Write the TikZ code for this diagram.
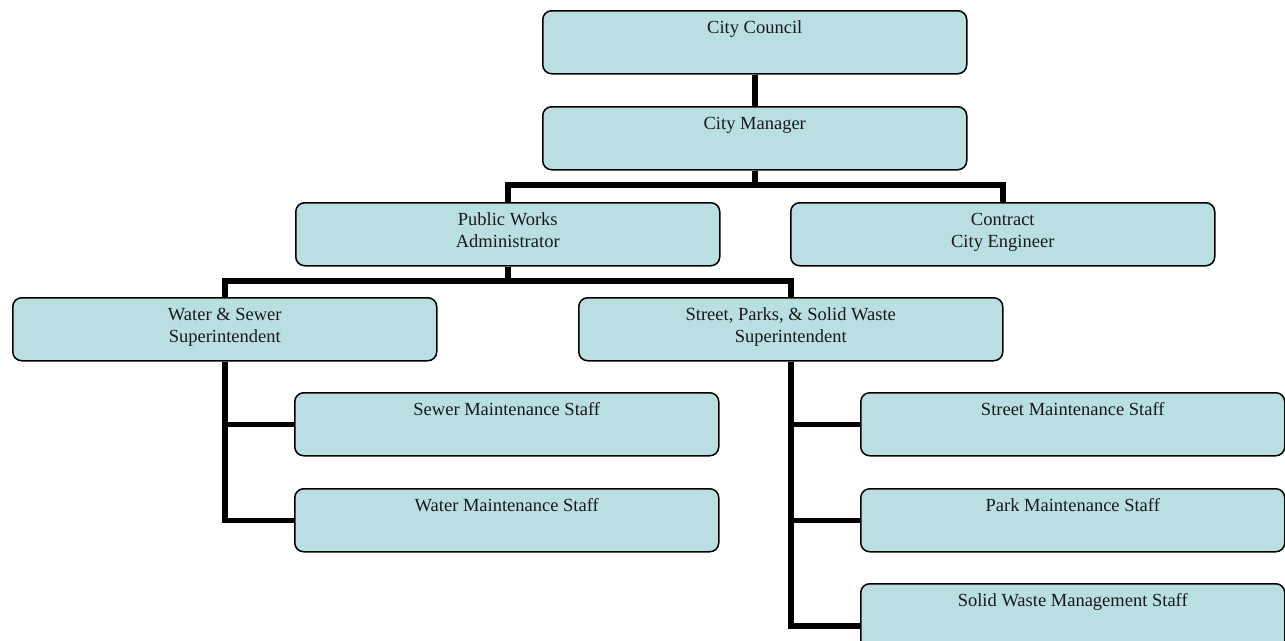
\documentclass[tikz,border=0pt]{standalone}
\usepackage{fontspec}
\setmainfont{Liberation Serif}
\definecolor{boxfill}{RGB}{186,223,227}
\begin{document}
\begin{tikzpicture}[x=1pt,y=-1pt,
  box/.style={draw=black, line width=1.5pt, rounded corners=9pt, fill=boxfill,
    minimum width=424pt, minimum height=63pt, inner sep=0pt, anchor=north west},
  lbl/.style={anchor=north, inner sep=0pt, align=center, text=black!90,
    font=\fontsize{18.5}{22}\selectfont},
  conn/.style={line width=5.5pt, line join=miter, draw=black}]
\clip (0,0) rectangle (1285,640);
% connectors first
\node[box] (cc) at (542,10) {};
\node[box] (cm) at (542,106) {};
\node[box] (pw) at (295,202) {};
\node[box] (ce) at (790,202) {};
\node[box] (ws) at (12,297) {};
\node[box] (sp) at (578,297) {};
\node[box] (sm) at (294,392) {};
\node[box] (wm) at (294,488) {};
\node[box] (st) at (860,392) {};
\node[box] (pk) at (860,488) {};
\node[box, minimum height=84pt] (sw) at (860,583) {};
\begin{scope}[on background layer/.style={}]
\draw[conn] (cc.south) -- (cm.north);
\draw[conn] (cm.south) -- ++(0,16);
\draw[conn] (pw.north) -- ++(0,-17) -| (ce.north);
\draw[conn] (pw.south) -- ++(0,16);
\draw[conn] (ws.north) -- ++(0,-16) -| (sp.north);
\draw[conn] (ws.south) |- (wm.west);
\draw[conn] (ws.south |- sm.west) -- (sm.west);
\draw[conn] (sp.south) |- (sw.west);
\draw[conn] (sp.south |- st.west) -- (st.west);
\draw[conn] (sp.south |- pk.west) -- (pk.west);
\end{scope}
\node[lbl] (cct) at ([yshift=-7.5pt]cc.north) {\strut City Council};
\node[lbl] (cmt) at ([yshift=-7.5pt]cm.north) {\strut City Manager};
\node[lbl] (pwt) at ([yshift=-7.5pt]pw.north) {\strut Public Works\\Administrator};
\node[lbl] (cet) at ([yshift=-7.5pt]ce.north) {\strut Contract\\City Engineer};
\node[lbl] (wst) at ([yshift=-7.5pt]ws.north) {\strut Water \& Sewer\\Superintendent};
\node[lbl] (spt) at ([yshift=-7.5pt]sp.north) {\strut Street, Parks, \& Solid Waste\\Superintendent};
\node[lbl] (smt) at ([yshift=-7.5pt]sm.north) {\strut Sewer Maintenance Staff};
\node[lbl] (wmt) at ([yshift=-7.5pt]wm.north) {\strut Water Maintenance Staff};
\node[lbl] (stt) at ([yshift=-7.5pt]st.north) {\strut Street Maintenance Staff};
\node[lbl] (pkt) at ([yshift=-7.5pt]pk.north) {\strut Park Maintenance Staff};
\node[lbl] (swt) at ([yshift=-7.5pt]sw.north) {\strut Solid Waste Management Staff};
\end{tikzpicture}
\end{document}
